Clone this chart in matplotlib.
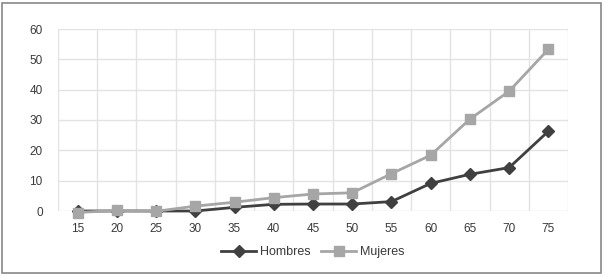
import matplotlib
matplotlib.use("Agg")
import matplotlib.pyplot as plt
from matplotlib.patches import Rectangle

categories = ["15", "20", "25", "30", "35", "40", "45", "50", "55", "60", "65", "70", "75"]
hombres = [0, 0, 0, 0, 1.2, 2.2, 2.3, 2.3, 3.1, 9.1, 12.1, 14.3, 26.3]
mujeres = [-0.5, 0.2, -0.1, 1.6, 2.9, 4.4, 5.6, 6.0, 12.3, 18.4, 30.3, 39.5, 53.3]
yticks = [0, 10, 20, 30, 40, 50, 60]

plt.rcParams['font.family'] = ['Liberation Sans', 'DejaVu Sans']
fig = plt.figure(figsize=(6.05, 2.77), dpi=100)
ax = fig.add_axes([58/605, 1-211/277, 510/605, 182/277])

x = list(range(len(categories)))
ax.plot(x, hombres, color="#404040", lw=2, marker="D", ms=6, label="Hombres", zorder=3, clip_on=False)
ax.plot(x, mujeres, color="#a6a6a6", lw=2, marker="s", ms=6.5, label="Mujeres", zorder=4, clip_on=False)

ax.set_xlim(-0.5, len(categories) - 0.5)
ax.set_ylim(0, 60)
ax.set_yticks(yticks)
ax.set_xticks(x)
ax.set_xticklabels(categories)
ax.set_xticks([i - 0.5 for i in range(len(categories) + 1)], minor=True)
ax.grid(False)
ax.grid(True, which="minor", axis="x", color="#e3e3e3", lw=1)
ax.grid(True, which="major", axis="y", color="#e3e3e3", lw=1)
ax.set_axisbelow(True)
for s in ax.spines.values():
    s.set_visible(False)
ax.tick_params(axis="both", which="both", length=0, labelsize=8.5, colors="#3a3a3a")
ax.tick_params(axis="x", pad=9)
ax.tick_params(axis="y", pad=11)

leg = ax.legend(loc="center", bbox_to_anchor=(0.5, (211-252)/182), ncol=2, frameon=False,
                fontsize=9, handlelength=2.8, columnspacing=0.8, handletextpad=0.35)
for t in leg.get_texts():
    t.set_color("#3a3a3a")

fig.patches.append(Rectangle((0.004, 0.015), 0.99, 0.975, transform=fig.transFigure,
                             fill=False, edgecolor="#888888", lw=1.2))
fig.savefig("out.png", dpi=100)
